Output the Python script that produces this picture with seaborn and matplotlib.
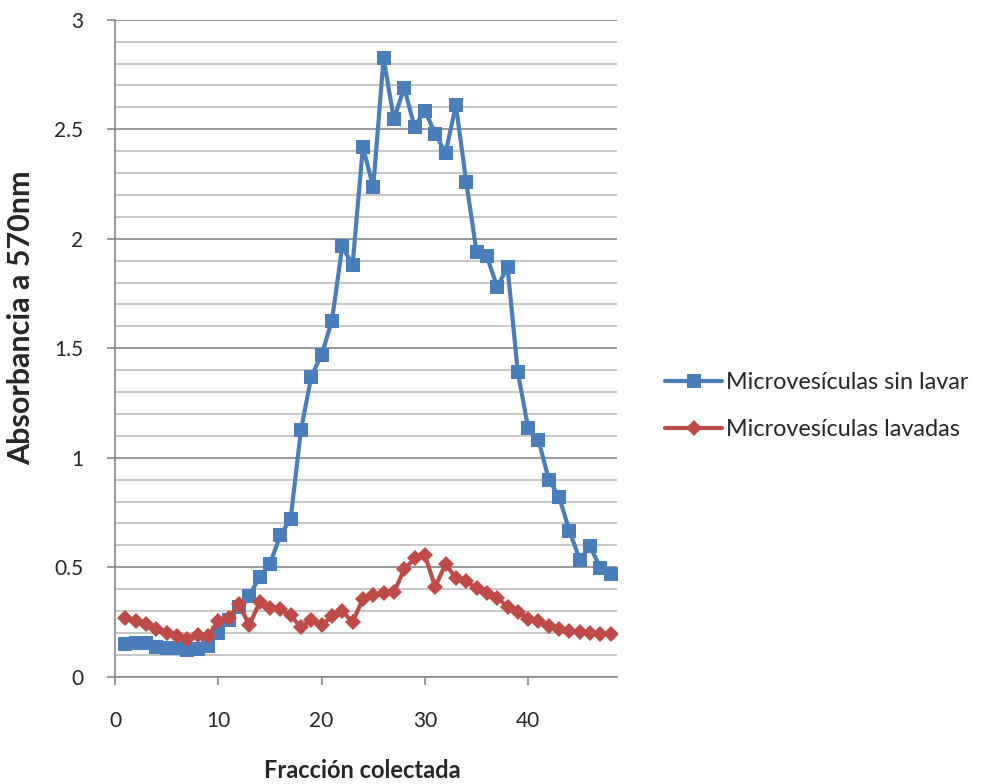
import numpy as np
import pandas as pd
import matplotlib
matplotlib.use("Agg")
import matplotlib.pyplot as plt
import seaborn as sns
from matplotlib.ticker import MultipleLocator

fraccion = list(range(1, 49))
sin_lavar = [0.15, 0.155, 0.155, 0.135, 0.13, 0.13, 0.12, 0.125, 0.14, 0.2,
             0.26, 0.32, 0.37, 0.455, 0.515, 0.645, 0.72, 1.125, 1.37, 1.47,
             1.625, 1.965, 1.88, 2.42, 2.235, 2.825, 2.545, 2.69, 2.51, 2.585,
             2.48, 2.39, 2.61, 2.26, 1.94, 1.92, 1.78, 1.87, 1.39, 1.135,
             1.08, 0.90, 0.82, 0.665, 0.535, 0.595, 0.495, 0.47]
lavadas = [0.27, 0.255, 0.24, 0.22, 0.2, 0.185, 0.17, 0.19, 0.185, 0.255,
           0.27, 0.33, 0.235, 0.34, 0.315, 0.31, 0.28, 0.225, 0.26, 0.235,
           0.275, 0.3, 0.25, 0.355, 0.375, 0.38, 0.385, 0.49, 0.54, 0.555,
           0.41, 0.515, 0.45, 0.435, 0.405, 0.38, 0.36, 0.32, 0.295, 0.265,
           0.255, 0.23, 0.22, 0.21, 0.205, 0.2, 0.195, 0.195]
series_names = ["Microvesículas sin lavar", "Microvesículas lavadas"]

sns.set_theme(style="white")
plt.rcParams['font.family'] = ['Lato', 'DejaVu Sans']

fig = plt.figure(figsize=(9.84, 7.84), dpi=100)
ax = fig.add_axes([115/984, 1-676.7/784, (617-115)/984, (676.7-19.7)/784])

sns.lineplot(x=fraccion, y=sin_lavar, ax=ax, color="#4A7EBB", linewidth=3.0,
             marker="s", markersize=10, markeredgewidth=0, label=series_names[0])
sns.lineplot(x=fraccion, y=lavadas, ax=ax, color="#BE4B48", linewidth=3.0,
             marker="D", markersize=8, markeredgewidth=0, label=series_names[1])

ax.set_xlim(0, 48.6)
ax.set_ylim(0, 3)
ax.xaxis.set_major_locator(MultipleLocator(10))
ax.yaxis.set_major_locator(MultipleLocator(0.5))
ax.yaxis.set_minor_locator(MultipleLocator(0.1))
ax.set_yticks(ax.get_yticks())
ax.set_yticklabels([f"{v:g}" for v in ax.get_yticks()])
ax.set_ylim(0, 3)
ax.grid(True, which="major", axis="y", color="#878787", linewidth=1.2)
ax.grid(True, which="minor", axis="y", color="#BDBDBD", linewidth=1.2)
ax.set_axisbelow(True)
for s in ["top", "right"]:
    ax.spines[s].set_visible(False)
for s in ["left", "bottom"]:
    ax.spines[s].set_color("#878787")
    ax.spines[s].set_linewidth(1.2)
ax.tick_params(axis="both", which="major", direction="out", length=6, width=1.2,
               color="#878787", labelsize=15, left=True, bottom=True)
ax.tick_params(axis="x", which="major", pad=19)
ax.tick_params(axis="y", which="major", pad=17)
ax.tick_params(axis="both", which="minor", length=0)

ax.set_xlabel("Fracción colectada", fontsize=17, fontweight="bold")
ax.set_ylabel("Absorbancia a 570nm", fontsize=22, fontweight="bold")
ax.xaxis.set_label_coords(0.492, (676.7 - 782) / 657)
ax.xaxis.label.set_va("bottom")
ax.yaxis.set_label_coords((35 - 115) / 502, (676.7 - 318) / 657)

leg = ax.legend(loc="center left", bbox_to_anchor=((665 - 115) / 502, (676.7 - 406) / 657),
                frameon=False, fontsize=16.8, handlelength=2.45, handletextpad=0.15,
                labelspacing=1.1, borderpad=0, borderaxespad=0)

fig.savefig("out.png", dpi=100)
